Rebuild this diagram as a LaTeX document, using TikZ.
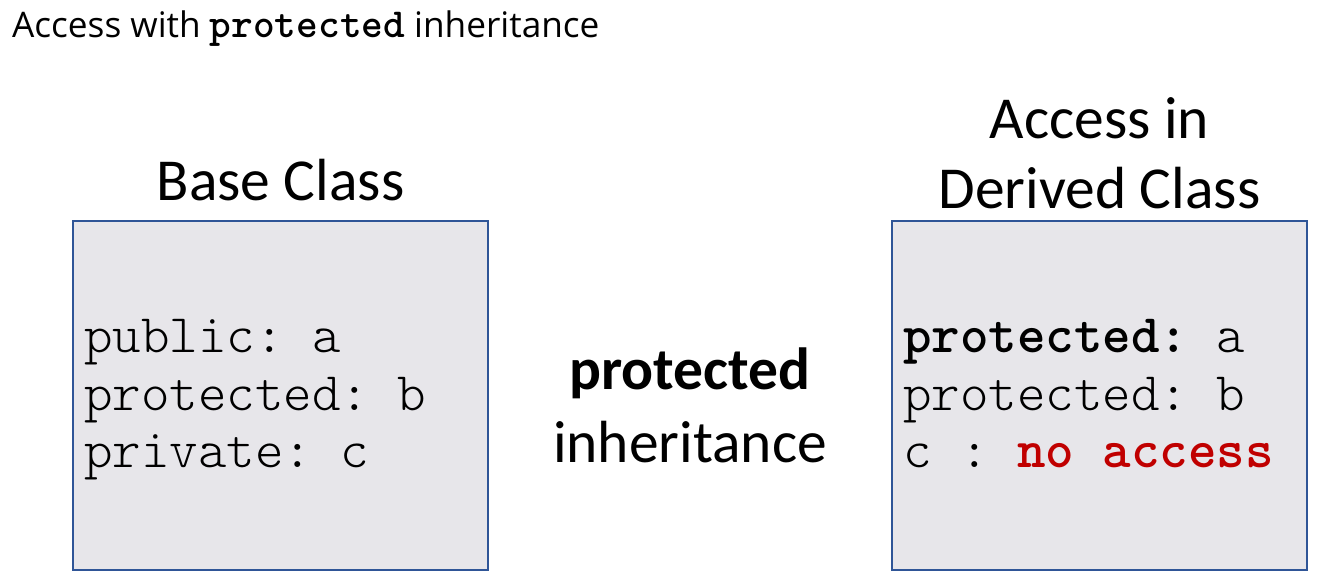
\documentclass[tikz,border=0pt]{standalone}
\usepackage{fontspec}
\setmainfont{Carlito}
\setmonofont{lmmonolt10-regular.otf}[BoldFont=lmmonolt10-bold.otf]
\newfontfamily\titlefont{Open Sans}
\definecolor{boxfill}{RGB}{231,230,234}
\definecolor{boxline}{RGB}{47,85,151}
\definecolor{noacc}{RGB}{192,0,0}
\begin{document}
\begin{tikzpicture}[x=1pt,y=-1pt,
  classbox/.style={draw=boxline,fill=boxfill,line width=1.2pt,minimum width=415pt,minimum height=349pt,inner sep=0pt},
  label/.style={inner sep=0pt,anchor=base,font=\fontsize{59.5}{70}\selectfont},
  code/.style={inner sep=0pt,anchor=base west,font=\fontsize{54.3}{57}\selectfont\ttfamily},
  ttl/.style={inner sep=0pt,anchor=base west,font=\fontsize{35.2}{40}\selectfont\titlefont}]
\useasboundingbox (0,0) rectangle (1320,584);
\node[ttl] (title) at (12,37) {Access with {\fontsize{41.3}{40}\selectfont\ttfamily\bfseries protected} inheritance};
\node[label] (basehead) at (280.5,200) {Base Class};
\node[label] (derhead1) at (1099.5,138) {Access in};
\node[label] (derhead2) at (1099.5,208) {Derived Class};
\node[classbox] (basebox) at (280.5,395.5) {};
\node[classbox] (derbox) at (1099.5,395.5) {};
\node[code] (b1) at (84,352) {public: a};
\node[code] (b2) at (84,410) {protected: b};
\node[code] (b3) at (84,467) {private: c};
\node[code] (d1) at (903,352) {\textbf{protected:} a};
\node[code] (d2) at (903,410) {protected: b};
\node[code] (d3) at (903,467) {c : \textcolor{noacc}{\textbf{no access}}};
\node[label,font=\fontsize{59.5}{70}\selectfont\bfseries] (mid1) at (689.5,389) {protected};
\node[label] (mid2) at (690,462) {inheritance};
\end{tikzpicture}
\end{document}
